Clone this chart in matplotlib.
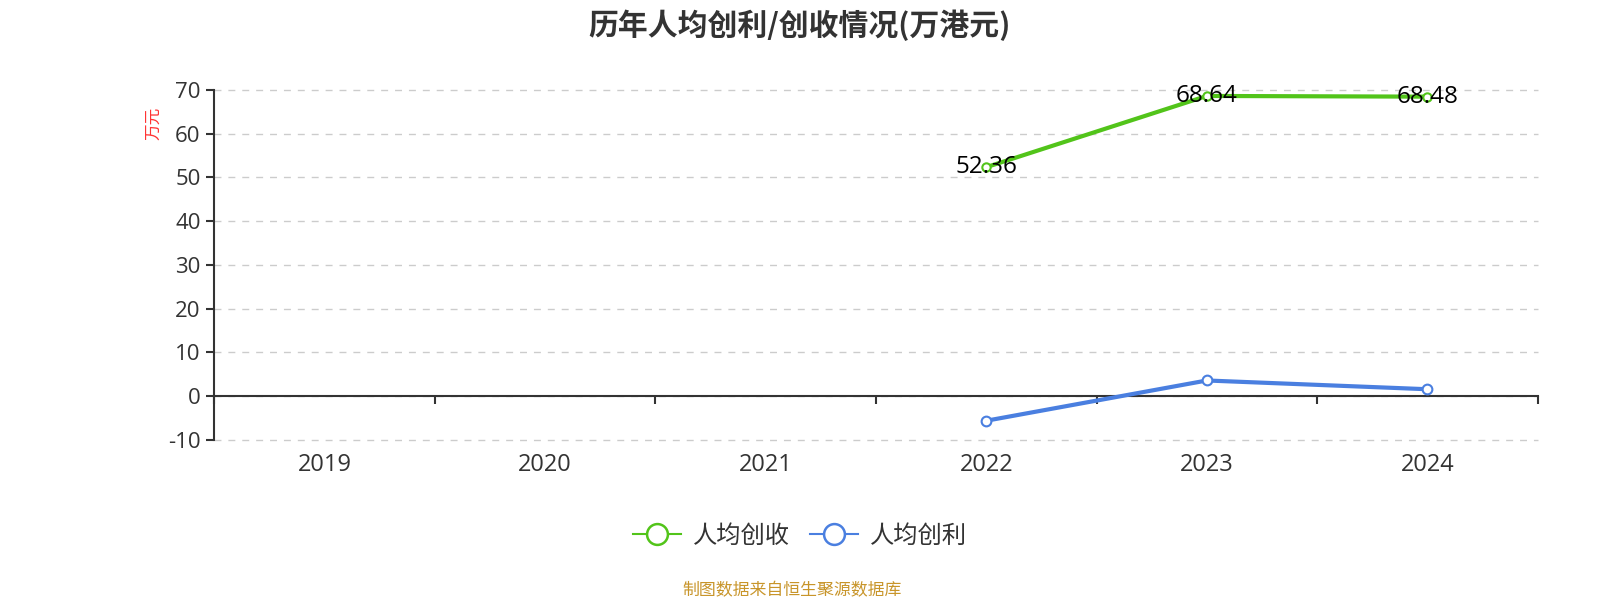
import numpy as np
import matplotlib
matplotlib.use("Agg")
import matplotlib.pyplot as plt
from matplotlib.lines import Line2D

plt.rcParams['font.family'] = ['Open Sans', 'Noto Sans CJK SC', 'DejaVu Sans']

# --- data ---
years = ["2019", "2020", "2021", "2022", "2023", "2024"]
revenue_per_head = [np.nan, np.nan, np.nan, 52.36, 68.64, 68.48]   # 人均创收
profit_per_head = [np.nan, np.nan, np.nan, -5.6, 3.6, 1.6]         # 人均创利
y_ticks = [-10, 0, 10, 20, 30, 40, 50, 60, 70]

green = "#52C41A"
blue = "#4A7FE0"
dark = "#333333"
cjk = ['Noto Sans CJK SC', 'DejaVu Sans']

fig = plt.figure(figsize=(16, 6), dpi=100)
ax = fig.add_axes([0.134, 0.2667, 0.827, 0.5833])

x = np.arange(len(years))

# gridlines
for v in y_ticks:
    ax.axhline(v, color="#cccccc", lw=1, ls=(0, (5, 5)), zorder=0, clip_on=False)

ax.plot(x, revenue_per_head, color=green, lw=3, marker="o", ms=6,
        mfc="white", mec=green, mew=1.5, zorder=3)
ax.plot(x, profit_per_head, color=blue, lw=3, marker="o", ms=7,
        mfc="white", mec=blue, mew=1.5, zorder=3)

for xi, v in zip(x, revenue_per_head):
    if not np.isnan(v):
        ax.text(xi, v, f"{v:.2f}", ha="center", va="center",
                fontsize=17.5, color="black", zorder=4)

ax.set_xlim(-0.5, len(years) - 0.5)
ax.set_ylim(-10, 70)
ax.set_yticks(y_ticks)
ax.set_yticklabels([str(v) for v in y_ticks], fontsize=16, color=dark)
ax.tick_params(axis="y", length=6, width=1.5, color=dark, pad=4)

# x axis sits on zero, ticks on category boundaries
ax.spines["bottom"].set_position(("data", 0))
ax.spines["bottom"].set_color(dark)
ax.spines["bottom"].set_linewidth(1.5)
ax.spines["left"].set_color(dark)
ax.spines["left"].set_linewidth(1.5)
ax.spines["top"].set_visible(False)
ax.spines["right"].set_visible(False)
ax.set_xticks(np.arange(len(years) + 1) - 0.5)
ax.set_xticklabels([])
ax.tick_params(axis="x", length=6, width=1.5, color=dark)

for xi, lab in zip(x, years):
    ax.text(xi, -0.071, lab, transform=ax.get_xaxis_transform(),
            ha="center", va="center", fontsize=17, color=dark)

ax.text(-0.046, 0.905, "万元", transform=ax.transAxes, rotation=90,
        ha="center", va="center", fontsize=12, color="#ff3333", family=cjk)

fig.text(0.5, 0.958, "历年人均创利/创收情况(万港元)", ha="center", va="center",
         fontsize=21.5, fontweight="bold", color=dark, family=cjk)

handles = [
    Line2D([], [], color=green, lw=1.5, marker="o", ms=15, mfc="white",
           mec=green, mew=1.8),
    Line2D([], [], color=blue, lw=1.5, marker="o", ms=15, mfc="white",
           mec=blue, mew=1.8),
]
fig.legend(handles, ["人均创收", "人均创利"], loc="center",
           bbox_to_anchor=(0.5, 0.107), ncol=2, frameon=False,
           prop={'family': cjk, 'size': 17.5}, handlelength=1.95,
           columnspacing=0.85, handletextpad=0.5, labelcolor=dark)

fig.text(0.495, 0.017, "制图数据来自恒生聚源数据库", ha="center", va="center",
         fontsize=12.2, color="#C8952A", family=cjk)

fig.savefig("out.png", dpi=100)
